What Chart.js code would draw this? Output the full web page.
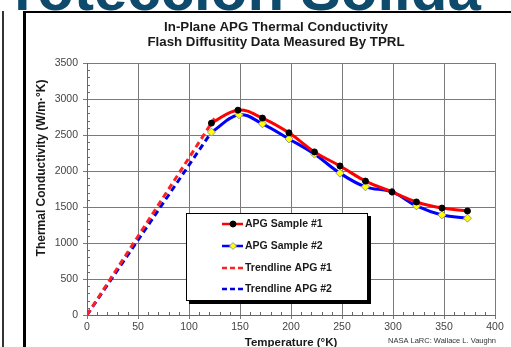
<!DOCTYPE html>
<html>
<head>
<meta charset="utf-8">
<script src="https://cdn.jsdelivr.net/npm/chart.js@4.4.1/dist/chart.umd.min.js"></script>
<style>
  html, body { margin: 0; padding: 0; background: #fff; overflow: hidden; }
  #wrap { position: relative; width: 511px; height: 347px; }
</style>
</head>
<body>
<div id="wrap"><canvas id="grafico"></canvas></div>
<script>
// dados
const temps1 = [122, 148, 172, 198, 223, 248, 273, 299, 323, 348, 373];
const cond1 = [2665, 2845, 2735, 2530, 2265, 2070, 1860, 1710, 1570, 1485, 1445];
const temps2 = [122, 149, 172, 198, 223, 248, 273, 299, 323, 348, 373];
const cond2 = [2540, 2780, 2655, 2445, 2235, 1970, 1780, 1710, 1515, 1390, 1345];
const trendX1 = [0, 125];
const trendY1 = [0, 2730];
const trendX2 = [0, 122];
const trendY2 = [0, 2540];
const xTicks = [0, 50, 100, 150, 200, 250, 300, 350, 400];
const yTicks = [0, 500, 1000, 1500, 2000, 2500, 3000, 3500];
const labels = ["APG Sample #1", "APG Sample #2", "Trendline APG #1", "Trendline APG #2"];

function pares(xs, ys) {
  return xs.map((x, i) => ({ x: x, y: ys[i] }));
}

const FONT = "'Liberation Sans', Arial, sans-serif";

// moldura, textos e legenda
const extras = {
  id: "extras",
  beforeDraw(chart) {
    const ctx = chart.ctx;
    ctx.save();
    // faixa azul do slide
    ctx.fillStyle = "#0e4a6c";
    ctx.font = "bold 60px " + FONT;
    ctx.textBaseline = "alphabetic";
    ctx.textAlign = "left";
    ctx.fillText("Protección Sólida", -26, 10);
    ctx.fillStyle = "#fff";
    ctx.fillRect(0, 11, 511, 336);
    // linhas da moldura
    ctx.fillStyle = "#333";
    ctx.fillRect(2, 11, 2, 336);
    ctx.fillStyle = "#000";
    ctx.fillRect(23, 11, 3, 336);
    ctx.fillRect(23, 11, 488, 2);
    ctx.restore();
  },
  afterDraw(chart) {
    const ctx = chart.ctx;
    const a = chart.chartArea;
    const xs = chart.scales.x, ys = chart.scales.y;
    ctx.save();
    // ticks menores
    ctx.strokeStyle = "#666";
    ctx.lineWidth = 1;
    ctx.beginPath();
    for (let v = 100; v < 3500; v += 100) {
      if (v % 500 === 0) continue;
      const py = Math.round(ys.getPixelForValue(v)) + 0.5;
      ctx.moveTo(a.left, py); ctx.lineTo(a.left + 3, py);
    }
    for (let v = 10; v < 400; v += 10) {
      if (v % 50 === 0) continue;
      const px = Math.round(xs.getPixelForValue(v)) + 0.5;
      ctx.moveTo(px, a.bottom); ctx.lineTo(px, a.bottom - 3);
    }
    ctx.stroke();

    // titulos
    ctx.fillStyle = "#1a1a1a";
    ctx.textAlign = "center";
    ctx.textBaseline = "middle";
    ctx.font = "bold 13.3px " + FONT;
    ctx.fillText("In-Plane APG Thermal Conductivity", 276, 27);
    ctx.fillText("Flash Diffusitity Data Measured By TPRL", 276, 42);
    ctx.font = "bold 11.5px " + FONT;
    ctx.fillText("Temperature (°K)", (a.left + a.right) / 2, 343);
    ctx.save();
    ctx.translate(42, 168);
    ctx.rotate(-Math.PI / 2);
    ctx.font = "bold 12px " + FONT;
    ctx.fillText("Thermal Conductivity (W/m·°K)", 0, 0);
    ctx.restore();
    ctx.font = "7.5px " + FONT;
    ctx.fillStyle = "#333";
    ctx.fillText("NASA LaRC: Wallace L. Vaughn", 442, 341);

    // legenda
    const lx = 186, ly = 213, lw = 182, lh = 88;
    ctx.fillStyle = "#000";
    ctx.fillRect(lx + 3, ly + 3, lw, lh);
    ctx.fillStyle = "#fff";
    ctx.fillRect(lx, ly, lw, lh);
    ctx.strokeStyle = "#000";
    ctx.lineWidth = 1;
    ctx.strokeRect(lx + 0.5, ly + 0.5, lw - 1, lh - 1);
    const rows = [224, 246, 268, 289];
    chart.data.datasets.forEach((ds, i) => {
      const y = rows[i];
      ctx.strokeStyle = ds.borderColor;
      ctx.lineWidth = 2.5;
      ctx.setLineDash(ds.borderDash ? [5, 3] : []);
      ctx.beginPath();
      ctx.moveTo(222, y); ctx.lineTo(243, y);
      ctx.stroke();
      ctx.setLineDash([]);
      if (ds.pointRadius > 0) {
        ctx.fillStyle = ds.pointBackgroundColor;
        ctx.strokeStyle = ds.pointBorderColor;
        ctx.lineWidth = 1;
        ctx.beginPath();
        if (ds.pointStyle === "rectRot") {
          ctx.moveTo(233, y - 3.5); ctx.lineTo(236.5, y); ctx.lineTo(233, y + 3.5); ctx.lineTo(229.5, y);
          ctx.closePath();
        } else {
          ctx.arc(233, y, 3, 0, Math.PI * 2);
        }
        ctx.fill();
        ctx.stroke();
      }
      ctx.fillStyle = "#1a1a1a";
      ctx.font = "bold 10.5px " + FONT;
      ctx.textAlign = "left";
      ctx.fillText(ds.label, 245, y);
    });
    ctx.restore();
  }
};

new Chart(document.getElementById("grafico"), {
  type: "line",
  data: {
    datasets: [
      {
        label: labels[0],
        data: pares(temps1, cond1),
        borderColor: "#ff0000",
        borderWidth: 3,
        tension: 0.4,
        pointRadius: 3,
        pointStyle: "circle",
        pointBackgroundColor: "#000",
        pointBorderColor: "#000",
        pointBorderWidth: 1
      },
      {
        label: labels[1],
        data: pares(temps2, cond2),
        borderColor: "#0000ff",
        borderWidth: 3,
        tension: 0.4,
        pointRadius: 4,
        pointStyle: "rectRot",
        pointBackgroundColor: "#ffff00",
        pointBorderColor: "#999",
        pointBorderWidth: 1
      },
      {
        label: labels[2],
        data: pares(trendX1, trendY1),
        borderColor: "#ff2020",
        borderWidth: 3,
        borderDash: [6, 4],
        pointRadius: 0
      },
      {
        label: labels[3],
        data: pares(trendX2, trendY2),
        borderColor: "#0000e0",
        borderWidth: 3,
        borderDash: [6, 4],
        pointRadius: 0
      }
    ]
  },
  options: {
    responsive: true,
    maintainAspectRatio: false,
    animation: false,
    layout: { padding: { top: 63, left: 30, right: 16, bottom: 0 } },
    plugins: {
      legend: { display: false },
      title: { display: false },
      tooltip: { enabled: false }
    },
    scales: {
      x: {
        type: "linear",
        min: 0,
        max: 400,
        afterBuildTicks: (s) => { s.ticks = xTicks.map(v => ({ value: v })); },
        afterFit: (s) => { s.height = 32; },
        grid: { color: "#7a7a7a", tickLength: 4, lineWidth: 1 },
        border: { color: "#666" },
        ticks: { color: "#444", padding: 2, maxRotation: 0, font: { family: FONT, size: 10.5 }, callback: (v) => String(v) }
      },
      y: {
        min: 0,
        max: 3500,
        afterBuildTicks: (s) => { s.ticks = yTicks.map(v => ({ value: v })); },
        afterFit: (s) => { s.width = 57; },
        grid: { color: "#7a7a7a", tickLength: 4, lineWidth: 1 },
        border: { color: "#666" },
        ticks: { color: "#444", padding: 5, font: { family: FONT, size: 10.5 }, callback: (v) => String(v) }
      }
    }
  },
  plugins: [extras]
});
</script>
</body>
</html>
